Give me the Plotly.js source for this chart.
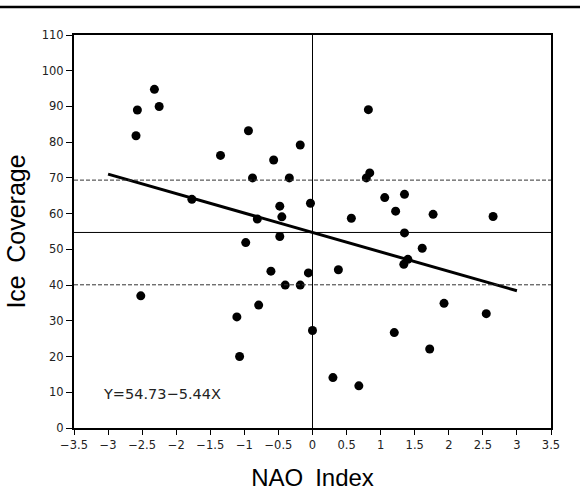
<!DOCTYPE html>
<html>
<head>
<meta charset="utf-8">
<script src="https://cdn.plot.ly/plotly-3.0.1.min.js"></script>
<style>html,body{margin:0;padding:0;background:#fff;}#chart{width:580px;height:495px;}</style>
</head>
<body>
<div id="chart"></div>
<script>
// NAO index vs Ice coverage
const nao = [-2.57,-2.32,-2.25,-2.59,-0.94,-1.35,-0.57,-0.18,-0.88,-0.34,-1.77,-0.48,-0.45,-0.81,-0.03,-0.48,-0.98,
             0.82,0.84,0.79,1.06,1.35,1.22,0.57,1.77,2.65,1.35,1.61,1.40,1.34,-0.06,0.38,-0.18,1.93,2.55,0.00,1.20,1.72,0.30,0.68,
             -0.61,-0.40,-2.52,-0.79,-1.11,-1.07];
const ice = [89.0,94.8,90.0,81.8,83.2,76.3,75.0,79.2,70.0,70.0,64.0,62.1,59.1,58.5,62.9,53.6,51.9,
             89.1,71.4,70.0,64.5,65.4,60.7,58.7,59.8,59.2,54.6,50.3,47.2,45.8,43.4,44.3,40.0,34.9,32.0,27.3,26.7,22.1,14.1,11.8,
             43.9,40.0,37.0,34.4,31.1,20.0];
const intercept = 54.73;
const slope = -5.44;
const fitRange = [-3, 3];
const meanIce = 54.73;
const stdIce = 14.65;
const xTicks = [-3.5,-3,-2.5,-2,-1.5,-1,-0.5,0,0.5,1,1.5,2,2.5,3,3.5];
const yTicks = [0,10,20,30,40,50,60,70,80,90,100,110];
const eqText = "Y=54.73\u22125.44X";
const xTitle = "NAO\u2002Index";
const yTitle = "Ice\u2002Coverage";

const fitY = fitRange.map(x => intercept + slope * x);

const traces = [
  {x: fitRange, y: fitY, mode: 'lines', line: {color: '#000', width: 3}, hoverinfo: 'skip'},
  {x: nao, y: ice, mode: 'markers', marker: {color: '#000', size: 9, symbol: 'circle'}}
];

const tickFont = {family: 'DejaVu Sans, sans-serif', size: 11.5, color: '#222'};

const layout = {
  width: 580, height: 495,
  margin: {l: 74, r: 29, t: 35, b: 67},
  paper_bgcolor: '#fff', plot_bgcolor: '#fff',
  showlegend: false,
  font: {family: 'Liberation Sans, Arial, sans-serif', size: 11, color: '#000'},
  xaxis: {
    range: [-3.5, 3.5], tickvals: xTicks,
    ticktext: xTicks.map(v => (v < 0 ? '\u2212' + Math.abs(v) : String(v))),
    ticks: 'outside', ticklen: 5, tickwidth: 1, tickcolor: '#000',
    showline: true, linecolor: '#000', linewidth: 2, mirror: true,
    showgrid: false, zeroline: false,
    tickfont: tickFont,
    title: {text: xTitle, font: {family: 'Liberation Sans, Arial, sans-serif', size: 24, color: '#000'}, standoff: 18}
  },
  yaxis: {
    range: [0, 110], tickvals: yTicks,
    ticks: 'outside', ticklen: 6, tickwidth: 1, tickcolor: '#000',
    showline: true, linecolor: '#000', linewidth: 2, mirror: true,
    showgrid: false, zeroline: false,
    tickfont: tickFont,
    title: {text: yTitle, font: {family: 'Liberation Sans, Arial, sans-serif', size: 25, color: '#000'}, standoff: 9}
  },
  shapes: [
    {type: 'line', xref: 'x', yref: 'paper', x0: 0, x1: 0, y0: 0, y1: 1, line: {color: '#000', width: 1}},
    {type: 'line', xref: 'paper', yref: 'y', x0: 0, x1: 1, y0: meanIce, y1: meanIce, line: {color: '#000', width: 1}},
    {type: 'line', xref: 'paper', yref: 'y', x0: 0, x1: 1, y0: meanIce + stdIce, y1: meanIce + stdIce, line: {color: '#333', width: 1, dash: '4px,2px'}},
    {type: 'line', xref: 'paper', yref: 'y', x0: 0, x1: 1, y0: meanIce - stdIce, y1: meanIce - stdIce, line: {color: '#333', width: 1, dash: '4px,2px'}},
    {type: 'line', xref: 'paper', yref: 'paper', x0: -0.2, x1: 1.1, y0: 1.071, y1: 1.071, line: {color: '#000', width: 2.5}}
  ],
  annotations: [
    {x: -3.1, y: 9.6, xref: 'x', yref: 'y', text: eqText, showarrow: false, xanchor: 'left', yanchor: 'middle',
     font: {family: 'DejaVu Sans, sans-serif', size: 14.5, color: '#222'}}
  ]
};

Plotly.newPlot('chart', traces, layout, {displayModeBar: false, staticPlot: true});
</script>
</body>
</html>
